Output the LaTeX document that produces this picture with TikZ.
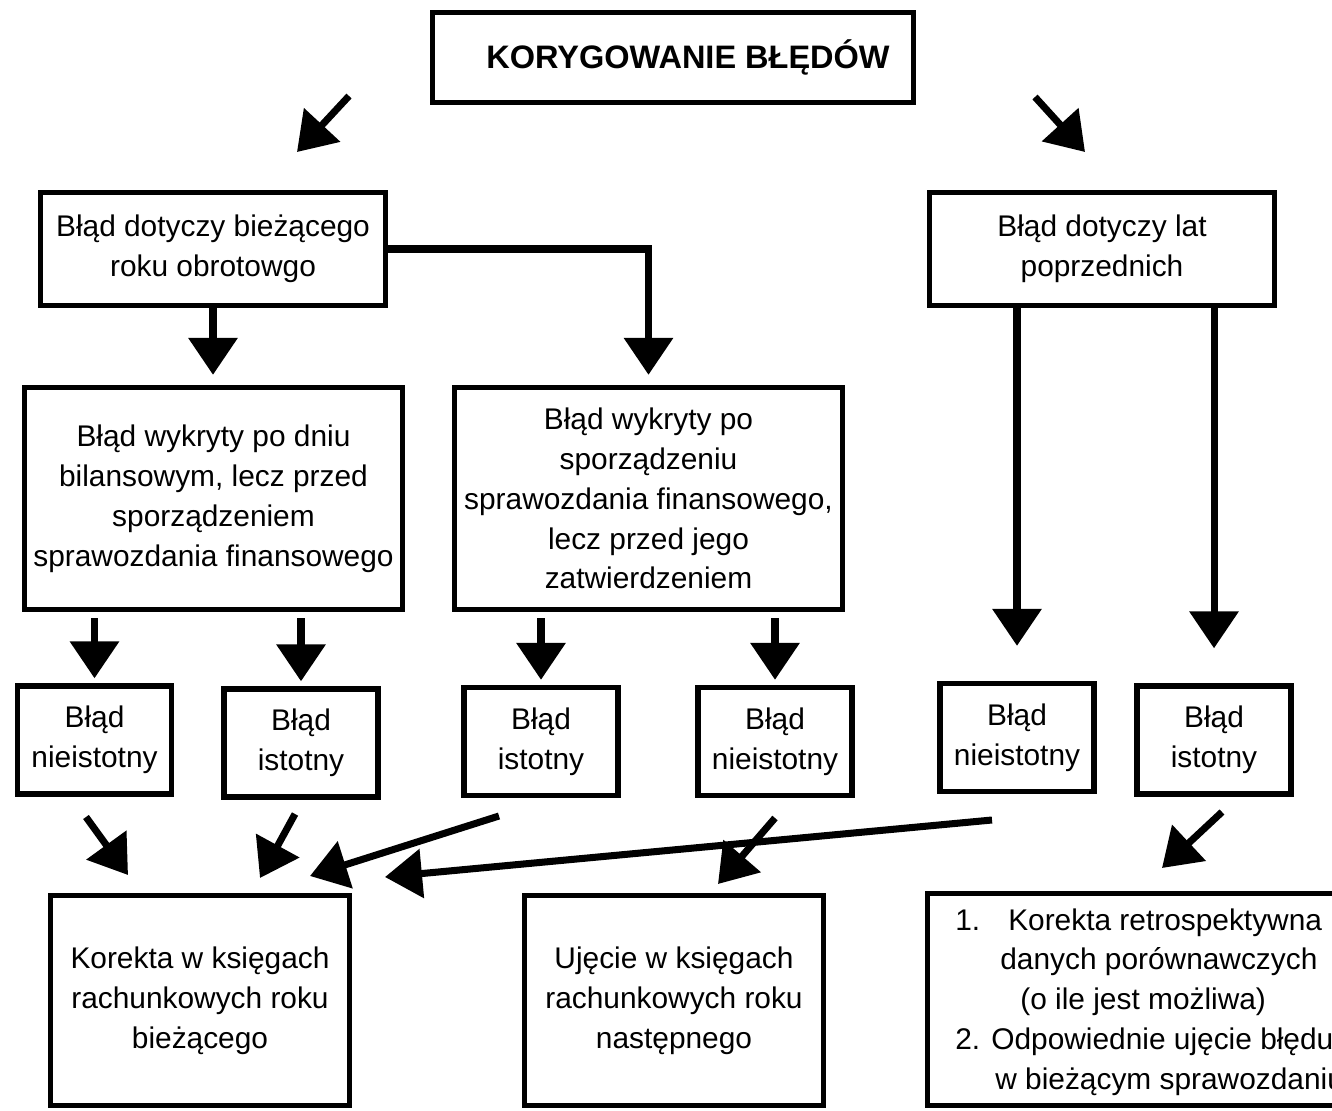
\documentclass[tikz,border=0pt]{standalone}
\usepackage{fontspec}
\setmainfont{Liberation Sans}
\usetikzlibrary{arrows.meta,positioning}

\begin{document}
\begin{tikzpicture}[x=0.02cm,y=-0.02cm,
    box/.style={draw,line width=3.1pt,align=center,inner sep=0pt,font=\fontsize{17}{22.7}\selectfont},
    small/.style={box,minimum width=3.08cm,minimum height=2.16cm},
    big/.style={box,minimum width=5.98cm,minimum height=4.2cm},
    arr/.style={line width=4pt,-{Triangle[length=0.74cm,width=0.96cm]}}]
  \clip (0,0) rectangle (1332,1111);
  \node[box,minimum width=9.62cm,minimum height=1.8cm,font=\fontsize{18.5}{22}\selectfont\bfseries] (title) at (673,57.5) {\hspace*{0.6cm}KORYGOWANIE BŁĘDÓW};
  \node[box,minimum width=6.9cm,minimum height=2.26cm] (cur) at (213,249) {Błąd dotyczy bieżącego\\roku obrotowgo};
  \node[box,minimum width=6.9cm,minimum height=2.26cm] (prev) at (1102,249) {Błąd dotyczy lat\\poprzednich};
  \node[box,minimum width=7.56cm,minimum height=4.44cm] (beforerep) at (213.5,498.5) {Błąd wykryty po dniu\\bilansowym, lecz przed\\sporządzeniem\\sprawozdania finansowego};
  \node[box,minimum width=7.76cm,minimum height=4.44cm] (afterrep) at (648.5,498.5) {Błąd wykryty po\\sporządzeniu\\sprawozdania finansowego,\\lecz przed jego\\zatwierdzeniem};
  \foreach \n/\x/\y/\t in {e1/94.5/740/nieistotny,e2/301/743/istotny,e3/541/741.5/istotny,
      e4/775/741.5/nieistotny,e5/1017/737.5/nieistotny,e6/1214/740/istotny}{
    \node[small] (\n) at (\x,\y) {Błąd\\\t};
  }
  \node[big] (fixcur) at (200,1000.5) {Korekta w księgach\\rachunkowych roku\\bieżącego};
  \node[big] (fixnext) at (674,1000.5) {Ujęcie w księgach\\rachunkowych roku\\następnego};
  \node[box,minimum width=8.3cm,minimum height=4.24cm] (retro) at (1135,999.5) {};
  \node[font=\fontsize{17}{22.7}\selectfont,align=left,inner sep=0pt,anchor=north west] (retrotext) at (955,908)
    {1.\hspace{0.56cm}Korekta retrospektywna\\
     \hspace*{0.9cm}danych porównawczych\\
     \hspace*{1.3cm}(o ile jest możliwa)\\
     2. Odpowiednie ujęcie błędu\\
     \hspace*{0.8cm}w bieżącym sprawozdaniu};

  \coordinate (t1s) at (349,96);   \coordinate (t1e) at (297,152);
  \coordinate (t2s) at (1035,97);  \coordinate (t2e) at (1085,152);
  \coordinate (e1s) at (86,817);   \coordinate (e1e) at (128,875);
  \coordinate (e2s) at (295,814);  \coordinate (e2e) at (260,878);
  \coordinate (e3s) at (499,816);  \coordinate (e3e) at (310,876);
  \coordinate (e4s) at (775,818);  \coordinate (e4e) at (718,884);
  \coordinate (e5s) at (992,820);  \coordinate (e5e) at (385,877);
  \coordinate (e6s) at (1222,812); \coordinate (e6e) at (1162,868);

  \draw[arr] (t1s) -- (t1e);
  \draw[arr] (t2s) -- (t2e);
  \draw[arr,shorten >=0.2cm] (cur.south) -- (cur.south |- beforerep.north);
  \draw[arr,shorten >=0.2cm] (cur.east) -| (afterrep.north);
  \draw[arr,shorten >=0.7cm] (e5.north |- prev.south) -- (e5.north);
  \draw[arr,shorten >=0.7cm] (e6.north |- prev.south) -- (e6.north);
  \foreach \u/\l in {beforerep/e1,beforerep/e2,afterrep/e3,afterrep/e4}
    \draw[arr,shorten <=0.12cm,shorten >=0.1cm] (\l.north |- \u.south) -- (\l.north);
  \foreach \n in {e1,e2,e3,e4,e5,e6}
    \draw[arr] (\n s) -- (\n e);
\end{tikzpicture}
\end{document}
